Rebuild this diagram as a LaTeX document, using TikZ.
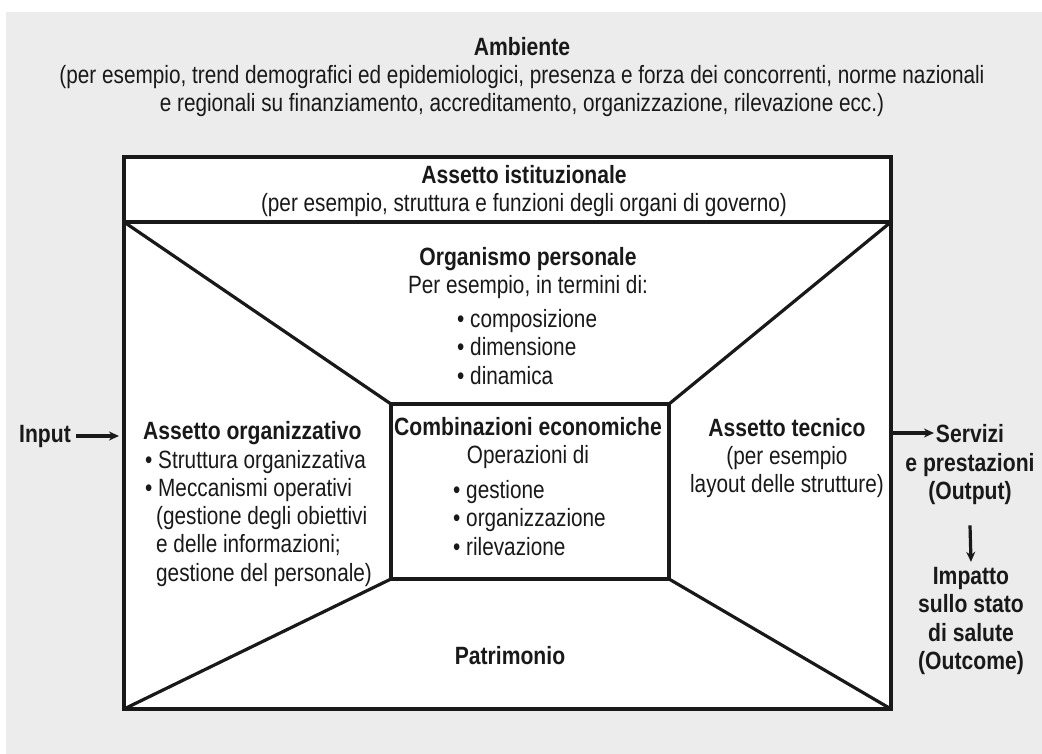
\documentclass[tikz,border=0pt]{standalone}
\usepackage{fontspec}
\setmainfont{Liberation Sans}[FakeStretch=0.83, BoldFeatures={FakeStretch=0.845}]
\usetikzlibrary{arrows.meta}
\definecolor{bg}{RGB}{236,236,236}
\definecolor{ink}{RGB}{25,25,25}
\begin{document}
\begin{tikzpicture}[x=1pt,y=-1pt,
  txt/.style={font=\fontsize{25}{28.3}\selectfont, text=ink, inner sep=0pt, align=center},
  lst/.style={font=\fontsize{25}{28.3}\selectfont, text=ink, inner sep=0pt, align=left},
  bld/.style={font=\bfseries\fontsize{25}{28.5}\selectfont, text=ink, inner sep=0pt, align=center},
  ln/.style={draw=ink, line width=3.2pt, line join=miter},
  arr/.style={draw=ink, line width=3.2pt, -{Stealth[length=10pt,width=9pt]}}]
\useasboundingbox (0,0) rectangle (1042,754);
\fill[white] (0,0) rectangle (1042,754);
\fill[bg] (6,12) rectangle (1042,754);
% geometry
\coordinate (OTL) at (124,157);
\coordinate (OBR) at (891,709);
\coordinate (DL) at (124,222);
\coordinate (DR) at (891,222);
\coordinate (BL) at (124,709);
\coordinate (BR) at (891,709);
\coordinate (ITL) at (391,404);
\coordinate (ITR) at (669,404);
\coordinate (IBL) at (391,579);
\coordinate (IBR) at (669,579);
\filldraw[ln, fill=white] (OTL) rectangle (OBR);
\draw[ln] (DL) -- (DR);
\draw[ln] (ITL) rectangle (IBR);
\draw[ln] (DL) -- (ITL);
\draw[ln] (DR) -- (ITR);
\draw[ln] (BL) -- (IBL);
\draw[ln] (BR) -- (IBR);
% texts
\node[txt] (amb) at (522,77) {\textbf{Ambiente}\\(per esempio, trend demografici ed epidemiologici, presenza e forza dei concorrenti, norme nazionali\\e regionali su finanziamento, accreditamento, organizzazione, rilevazione ecc.)};
\node[txt] (ist) at (524,191) {\textbf{Assetto istituzionale}\\(per esempio, struttura e funzioni degli organi di governo)};
\node[txt] (org) at (528,273) {\textbf{Organismo personale}\\Per esempio, in termini di:};
\node[lst, anchor=west] (orgl) at (457,347) {• composizione\\• dimensione\\• dinamica};
\node[lst, anchor=west] (aorg) at (143,504) {\textbf{Assetto organizzativo}\\\hspace{2pt}• Struttura organizzativa\\\hspace{2pt}• Meccanismi operativi\\\hspace{13pt}(gestione degli obiettivi\\\hspace{13pt}e delle informazioni;\\\hspace{13pt}gestione del personale)};
\node[txt] (comb) at (528,443) {\textbf{Combinazioni economiche}\\Operazioni di};
\node[lst, anchor=west] (combl) at (453,518) {• gestione\\• organizzazione\\• rilevazione};
\node[txt] (tec) at (787,458) {\textbf{Assetto tecnico}\\(per esempio\\layout delle strutture)};
\node[bld] (pat) at (510,656) {Patrimonio};
\node[bld] (inp) at (45,436) {Input};
\node[bld] (out) at (970,465) {Servizi\\e prestazioni\\(Output)};
\node[bld] (imp) at (971,621) {Impatto\\sullo stato\\di salute\\(Outcome)};
\coordinate (inend) at (119,436);
\coordinate (outstart) at (893,433);
\coordinate (outend) at (934,433);
\draw[arr] ([xshift=5pt]inp.east |- inend) -- (inend);
\draw[arr] (outstart) -- (outend);
\draw[arr] ([yshift=-20pt]out.south) -- ([yshift=5pt]imp.north);
\end{tikzpicture}
\end{document}
